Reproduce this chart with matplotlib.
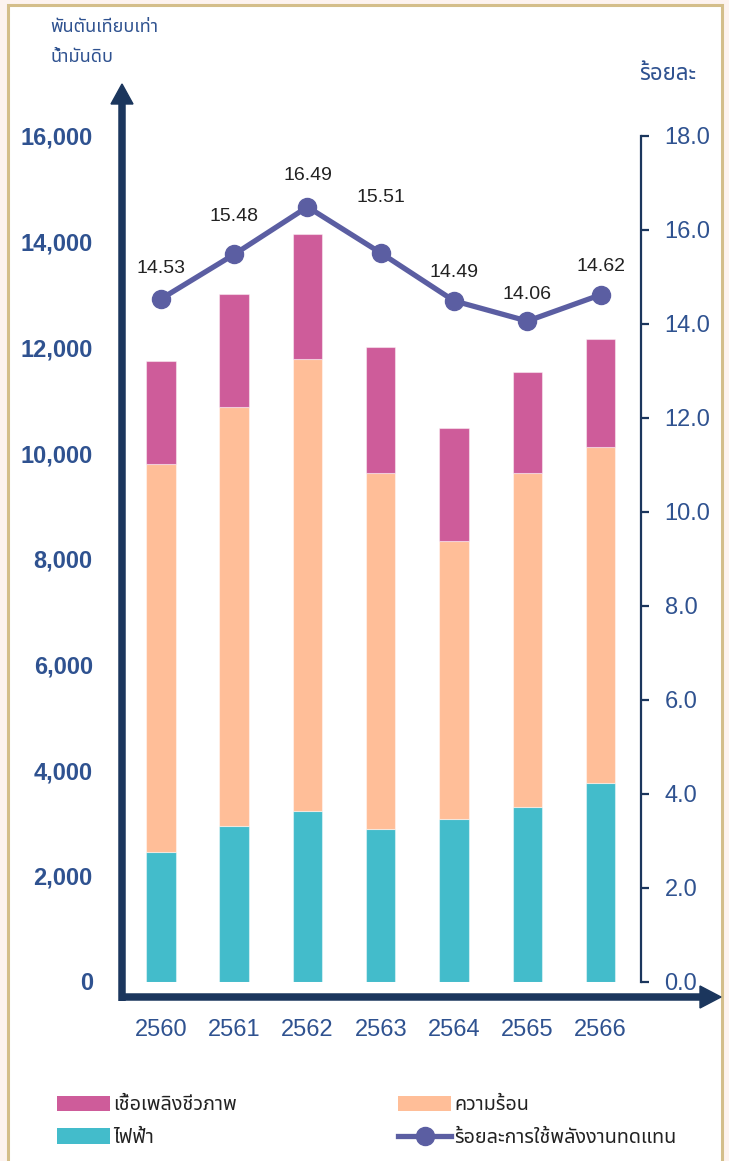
import numpy as np
import matplotlib
matplotlib.use("Agg")
import matplotlib.pyplot as plt
import matplotlib.font_manager as fm
from matplotlib.ft2font import FT2Font
from matplotlib.patches import Rectangle, Polygon, Patch
from matplotlib.lines import Line2D

# ---------------- data ----------------
years = ["2560", "2561", "2562", "2563", "2564", "2565", "2566"]
electricity = [2456, 2949, 3232, 2886, 3075, 3308, 3757]
heat = [7338, 7929, 8543, 6737, 5256, 6310, 6358]
biofuel = [1943, 2127, 2366, 2385, 2138, 1911, 2050]
renew_pct = [14.53, 15.48, 16.49, 15.51, 14.49, 14.06, 14.62]

lbl_bio = "เชื้อเพลิงชีวภาพ"
lbl_heat = "ความร้อน"
lbl_elec = "ไฟฟ้า"
lbl_pct = "ร้อยละการใช้พลังงานทดแทน"
ylab_left = ["พันตันเทียบเท่า", "น้ำมันดิบ"]
ylab_right = "ร้อยละ"

# ---------------- fonts ----------------
def pick_thai():
    prefs = ['Tahoma', 'Noto Sans Thai', 'Noto Sans Thai UI', 'Sarabun', 'TH Sarabun New',
             'Loma', 'Garuda', 'Kinnari', 'Norasi', 'Waree', 'Umpush', 'Laksaman',
             'Sawasdee', 'Tlwg Typo']
    found = {}
    for f in fm.fontManager.ttflist:
        try:
            if ord('ก') in FT2Font(f.fname).get_charmap():
                found.setdefault(f.name, f.fname)
        except Exception:
            pass
    for p in prefs:
        if p in found:
            return p
    return next(iter(found), None)

thai = pick_thai()
THAI = [thai, 'DejaVu Sans'] if thai else ['DejaVu Sans']
NUM = ['Liberation Sans', 'DejaVu Sans']

# ---------------- colours ----------------
c_bio = '#CE5C9A'
c_heat = '#FFBE98'
c_elec = '#43BCCB'
c_line = '#5B5EA2'
navy = '#1B365D'
c_tick = '#2F5290'
c_text = '#222222'

W, H = 729, 1161
fig = plt.figure(figsize=(W / 100, H / 100), dpi=100)
fig.patch.set_facecolor('#FDF3EF')

def fx(px):
    return px / W

def fy(py):
    return 1 - py / H

frame = Rectangle((fx(8), -0.05), fx(722) - fx(8), fy(5) + 0.05, transform=fig.transFigure,
                  facecolor='white', edgecolor='#D4BE8A', lw=2.2, zorder=-5)
fig.patches.append(frame)

ax_l, ax_r, ax_t, ax_b = 122, 641, 136, 981.5
ax = fig.add_axes([fx(ax_l), fy(ax_b), fx(ax_r) - fx(ax_l), fy(ax_t) - fy(ax_b)])
ax.patch.set_alpha(0)

x = np.arange(len(years))
elec = np.array(electricity)
ht = np.array(heat)
bio = np.array(biofuel)
bw = 0.4
ax.bar(x, elec, width=bw, color=c_elec, edgecolor=(1, 1, 1, 0.45), lw=0.8)
ax.bar(x, ht, bottom=elec, width=bw, color=c_heat, edgecolor=(1, 1, 1, 0.45), lw=0.8)
ax.bar(x, bio, bottom=elec + ht, width=bw, color=c_bio, edgecolor=(1, 1, 1, 0.45), lw=0.8)

ax.set_xlim(-0.53, 6.55)
ax.set_ylim(0, 16000)
yt = np.arange(0, 16001, 2000)
ax.set_yticks(yt)
ax.set_yticklabels([f"{v:,}" for v in yt], fontfamily=NUM, fontsize=17, fontweight='bold', color=c_tick)
ax.set_xticks(x)
ax.set_xticklabels(years, fontfamily=NUM, fontsize=17, color=c_tick)
ax.tick_params(axis='y', length=0, pad=21)
ax.tick_params(axis='x', length=0, pad=27)
for s in ax.spines.values():
    s.set_visible(False)

ax2 = ax.twinx()
ax2.set_ylim(0, 18)
rt = np.arange(0, 18.01, 2)
ax2.set_yticks(rt)
ax2.set_yticklabels([f"{v:.1f}" for v in rt], fontfamily=NUM, fontsize=17, color=c_tick)
for k in ['top', 'left', 'bottom']:
    ax2.spines[k].set_visible(False)
ax2.spines['right'].set_color(navy)
ax2.spines['right'].set_linewidth(1.6)
ax2.spines['right'].set_bounds(0, 18)
ax2.tick_params(axis='y', direction='out', length=6, width=1.6, color=navy, pad=11)

ax2.plot(x, renew_pct, color=c_line, lw=3.8, marker='o', ms=13, zorder=5, clip_on=False)
offs = [21.6, 27.4, 22.3, 39.6, 20.2, 19.4, 20.2]
for xi, v, o in zip(x, renew_pct, offs):
    ax2.annotate(f"{v:.2f}", (xi, v), xytext=(0, o), textcoords='offset points',
                 ha='center', va='center', fontsize=14, color=c_text, fontfamily=NUM)

# axis arrows
fig.add_artist(Line2D([fx(122), fx(122)], [fy(1001), fy(103)], transform=fig.transFigure,
                      color=navy, lw=5.4, solid_capstyle='butt'))
fig.add_artist(Polygon([(fx(111), fy(104)), (fx(133), fy(104)), (fx(122), fy(84))],
                       closed=True, transform=fig.transFigure, color=navy))
fig.add_artist(Line2D([fx(118.5), fx(702)], [fy(997), fy(997)], transform=fig.transFigure,
                      color=navy, lw=5.4, solid_capstyle='butt'))
fig.add_artist(Polygon([(fx(700), fy(986)), (fx(700), fy(1008)), (fx(721), fy(997))],
                       closed=True, transform=fig.transFigure, color=navy))

# axis titles
fig.text(fx(50), fy(27), ylab_left[0], ha='left', va='center', fontsize=13, color=c_tick, fontfamily=THAI)
fig.text(fx(50), fy(57), ylab_left[1], ha='left', va='center', fontsize=13, color=c_tick, fontfamily=THAI)
fig.text(fx(668), fy(75), ylab_right, ha='center', va='center', fontsize=16, fontweight='bold',
         color=c_tick, fontfamily=THAI)

# legend
h_bio = Patch(facecolor=c_bio)
h_heat = Patch(facecolor=c_heat)
h_elec = Patch(facecolor=c_elec)
h_line = Line2D([], [], color=c_line, lw=3.8, marker='o', ms=13)
leg_kw = dict(frameon=False, handlelength=2.7, handleheight=0.8, handletextpad=0.15,
              labelspacing=0.65, borderaxespad=0, borderpad=0,
              prop=fm.FontProperties(family=THAI, size=14.2), labelcolor=c_text, numpoints=1)
leg1 = fig.legend([h_bio, h_elec], [lbl_bio, lbl_elec], loc='upper left',
                  bbox_to_anchor=(fx(57), fy(1095)), **leg_kw)
leg2 = fig.legend([h_heat, h_line], [lbl_heat, lbl_pct], loc='upper left',
                  bbox_to_anchor=(fx(398), fy(1095)), **leg_kw)

fig.savefig('out.png', dpi=100, facecolor=fig.get_facecolor())
